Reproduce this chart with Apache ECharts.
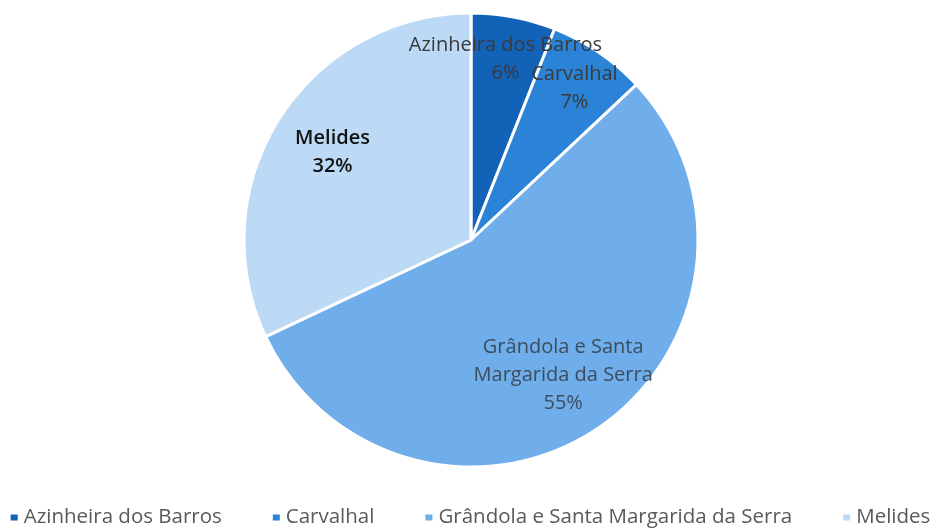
<!DOCTYPE html>
<html>
<head>
<meta charset="utf-8">
<script src="https://cdn.jsdelivr.net/npm/echarts@6/dist/echarts.min.js"></script>
<style>
  html, body { margin: 0; padding: 0; background: #fff; }
  #chart { width: 939px; height: 528px; }
</style>
</head>
<body>
<div id="chart"></div>
<script>
const categories = ["Azinheira dos Barros", "Carvalhal", "Grândola e Santa Margarida da Serra", "Melides"];
const shares = [6, 7, 55, 32];
const sliceColors = ["#1262B8", "#2A83D6", "#6FAEEA", "#BCD9F6"];
const labelNames = ["Azinheira dos Barros", "Carvalhal", "Grândola e Santa\nMargarida da Serra", "Melides"];
const labelColors = ["#3a3a3a", "#3a3a3a", "#3c4d5e", "#111111"];
const labelWeights = ["normal", "normal", "normal", 600];
// small slices get their labels on the outer ring
const outerLabel = [true, true, false, false];

const pieData = categories.map((name, i) => ({
  name,
  value: shares[i],
  itemStyle: { color: sliceColors[i] },
}));

const ringData = (outer) =>
  categories.map((name, i) => ({
    name,
    value: shares[i],
    label: {
      show: outerLabel[i] === outer,
      color: labelColors[i],
      fontWeight: labelWeights[i],
    },
  }));

const labelRing = (radius, outer) => ({
  type: "pie",
  center: [471, 240],
  radius,
  startAngle: 90,
  clockwise: true,
  silent: true,
  avoidLabelOverlap: false,
  data: ringData(outer),
  itemStyle: { color: "rgba(0,0,0,0)" },
  label: {
    position: "inside",
    formatter: (p) => labelNames[p.dataIndex] + "\n" + p.value + "%",
    fontSize: 20,
    lineHeight: 28,
    fontFamily: "Open Sans",
  },
  labelLine: { show: false },
  labelLayout: { hideOverlap: false },
});

const chart = echarts.init(document.getElementById("chart"));
chart.setOption({
  animation: false,
  legend: {
    data: categories,
    top: 507,
    left: "center",
    width: 939,
    padding: 0,
    itemWidth: 9,
    itemHeight: 8,
    itemGap: 49,
    icon: "rect",
    textStyle: {
      color: "#595959",
      fontSize: 20.5,
      fontFamily: "Open Sans",
    },
  },
  series: [
    {
      type: "pie",
      center: [471, 240],
      radius: [0, 227],
      startAngle: 90,
      clockwise: true,
      data: pieData,
      itemStyle: { borderColor: "#fff", borderWidth: 3 },
      label: { show: false },
      labelLine: { show: false },
    },
    labelRing([95, 227], false),
    labelRing([135, 227], true),
  ],
});
</script>
</body>
</html>
